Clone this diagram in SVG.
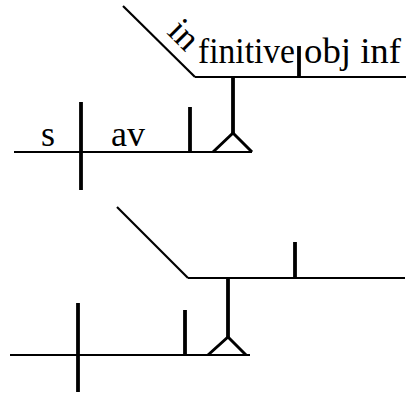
<svg xmlns="http://www.w3.org/2000/svg" width="406" height="396" viewBox="0 0 406 396">
<style>
  .ln { stroke: #000; stroke-width: 2.2; fill: none; stroke-linecap: butt; }
  .bold { stroke: #000; stroke-width: 3.8; fill: none; }
  .tri { stroke: #000; stroke-width: 3; fill: none; stroke-linejoin: miter; }
  .tx { font-family: "Liberation Serif", "Times New Roman", serif; font-size: 36px; fill: #000; }
</style>
<rect width="406" height="396" fill="#fff"/>
<g id="top-diagram">
  <g id="top-baseline">
    <line class="ln" x1="14" y1="152" x2="252" y2="152"/>
    <text class="tx" x="41" y="146">s</text>
    <text class="tx" x="111" y="146">av</text>
  </g>
  <g id="top-platform">
    <line class="ln" x1="123" y1="6" x2="195" y2="77"/>
    <line class="ln" x1="195" y1="77" x2="406" y2="77"/>
    <text class="tx" transform="translate(166 33) rotate(45)">in</text>
    <text class="tx" x="198" y="63" textLength="97" lengthAdjust="spacingAndGlyphs">finitive</text>
    <text class="tx" x="304" y="63" textLength="97" lengthAdjust="spacingAndGlyphs">obj inf</text>
  </g>
</g>
<g id="top-connectors">
  <line class="bold" x1="81" y1="102" x2="81" y2="190"/>
  <line class="bold" x1="190" y1="107" x2="190" y2="152"/>
  <line class="bold" x1="299" y1="46" x2="299" y2="77"/>
  <line class="bold" x1="233" y1="77" x2="233" y2="133"/>
  <polyline class="tri" points="213,152 233,133 252,152"/>
</g>
<g id="bottom-diagram">
  <g id="bottom-baseline">
    <line class="ln" x1="10" y1="355" x2="250" y2="355"/>
  </g>
  <g id="bottom-platform">
    <line class="ln" x1="117" y1="207" x2="188" y2="278"/>
    <line class="ln" x1="188" y1="278" x2="405" y2="278"/>
  </g>
</g>
<g id="bottom-connectors">
  <line class="bold" x1="78" y1="303" x2="78" y2="392"/>
  <line class="bold" x1="185" y1="310" x2="185" y2="355"/>
  <line class="bold" x1="295" y1="242" x2="295" y2="278"/>
  <line class="bold" x1="228" y1="278" x2="228" y2="337"/>
  <polyline class="tri" points="208,355 228,337 246,355"/>
</g>
</svg>
